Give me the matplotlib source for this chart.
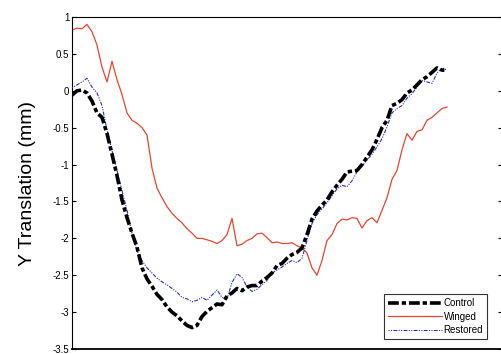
import numpy as np
import matplotlib.pyplot as plt

plt.rcParams['font.family'] = ['Liberation Sans', 'DejaVu Sans']

# frame-by-frame vertical translation (mm)
control = [-0.06, 0.00, 0.01, -0.03, -0.14, -0.30, -0.36, -0.58, -0.86, -1.15,
           -1.48, -1.72, -1.93, -2.12, -2.40, -2.55, -2.65, -2.76, -2.83, -2.93,
           -3.00, -3.05, -3.12, -3.18, -3.21, -3.18, -3.06, -2.99, -2.94, -2.89,
           -2.90, -2.78, -2.74, -2.68, -2.71, -2.66, -2.64, -2.64, -2.58, -2.53,
           -2.47, -2.37, -2.34, -2.27, -2.22, -2.19, -2.13, -1.95, -1.74, -1.63,
           -1.55, -1.48, -1.37, -1.28, -1.20, -1.10, -1.09, -1.08, -1.00, -0.90,
           -0.80, -0.66, -0.50, -0.40, -0.20, -0.17, -0.12, -0.03, 0.01, 0.08,
           0.15, 0.19, 0.25, 0.31, 0.28, 0.28]

winged = [0.82, 0.85, 0.84, 0.90, 0.80, 0.62, 0.32, 0.12, 0.40, 0.15,
          -0.05, -0.30, -0.40, -0.44, -0.50, -0.60, -1.05, -1.32, -1.45, -1.57,
          -1.66, -1.73, -1.79, -1.87, -1.93, -2.00, -2.00, -2.02, -2.04, -2.07,
          -2.03, -1.95, -1.73, -2.10, -2.08, -2.03, -2.00, -1.94, -1.93, -1.99,
          -2.06, -2.05, -2.07, -2.07, -2.06, -2.10, -2.13, -2.20, -2.40, -2.50,
          -2.30, -2.03, -1.95, -1.80, -1.74, -1.75, -1.72, -1.73, -1.86, -1.76,
          -1.72, -1.79, -1.62, -1.45, -1.20, -1.08, -0.80, -0.58, -0.67, -0.55,
          -0.53, -0.40, -0.36, -0.30, -0.24, -0.22]

restored = [0.04, 0.08, 0.12, 0.17, 0.05, -0.03, -0.20, -0.53, -0.81, -1.08,
            -1.35, -1.62, -1.93, -2.17, -2.30, -2.40, -2.47, -2.54, -2.59, -2.63,
            -2.68, -2.73, -2.80, -2.82, -2.86, -2.84, -2.80, -2.84, -2.77, -2.70,
            -2.80, -2.82, -2.60, -2.48, -2.53, -2.66, -2.72, -2.69, -2.63, -2.57,
            -2.47, -2.43, -2.39, -2.34, -2.30, -2.33, -2.27, -2.03, -1.80, -1.68,
            -1.60, -1.52, -1.42, -1.33, -1.28, -1.30, -1.22, -1.10, -1.02, -0.94,
            -0.86, -0.76, -0.65, -0.49, -0.30, -0.24, -0.20, -0.10, -0.04, 0.05,
            0.14, 0.12, 0.10, 0.24, 0.31, 0.28]

yticks = [1, 0.5, 0, -0.5, -1, -1.5, -2, -2.5, -3, -3.5]
ytick_labels = ["1", "0.5", "0", "-0.5", "-1", "-1.5", "-2", "-2.5", "-3", "-3.5"]

frames = np.arange(len(control))

fig = plt.figure(figsize=(5.01, 3.54), dpi=100)
ax = fig.add_axes([72 / 501, 1 - 349 / 354, 430 / 501, 332 / 354])

ax.plot(frames, winged, color="#e8452e", lw=0.9, label="Winged", zorder=2)
ax.plot(frames, restored, color="#2a2fd0", lw=0.8,
        ls=(0, (1, 1.2, 1, 1.2, 3.5, 1.2)), label="Restored", zorder=3)
ax.plot(frames, control, color="black", lw=2.6, ls=(0, (3, 0.8, 1.2, 0.8)),
        label="Control", zorder=4)

ax.set_xlim(0, 86)
ax.set_ylim(-3.5, 1)
ax.set_yticks(yticks)
ax.set_yticklabels(ytick_labels)
ax.set_xticks([])
ax.tick_params(axis="y", direction="in", length=3, width=0.8, labelsize=7,
               right=True, pad=2)
for s in ax.spines.values():
    s.set_linewidth(0.8)
ax.spines["bottom"].set_linewidth(1.3)

ax.set_ylabel("Y Translation (mm)", fontsize=14, labelpad=12)

handles, labels = ax.get_legend_handles_labels()
order = [2, 0, 1]
leg = ax.legend([handles[i] for i in order], [labels[i] for i in order],
                loc="lower right", bbox_to_anchor=(0.965, 0.03), fontsize=7,
                frameon=True, fancybox=False, edgecolor="black",
                handlelength=5.5, handletextpad=0.2, borderpad=0.4,
                labelspacing=0.35, borderaxespad=0)
leg.get_frame().set_linewidth(0.8)

fig.savefig("out.png", dpi=100)
